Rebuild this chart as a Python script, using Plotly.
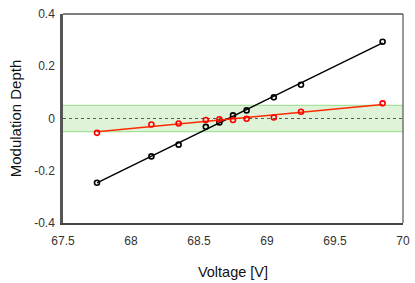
import numpy as np
import plotly.graph_objects as go

# Data
voltage = [67.75, 68.15, 68.35, 68.55, 68.65, 68.75, 68.85, 69.05, 69.25, 69.85]
depth_black = [-0.246, -0.145, -0.100, -0.032, -0.015, 0.012, 0.031, 0.081, 0.129, 0.294]
depth_red = [-0.055, -0.023, -0.019, -0.006, -0.003, -0.006, -0.001, 0.004, 0.026, 0.058]
band_limits = [-0.05, 0.05]
x_ticks = [67.5, 68, 68.5, 69, 69.5, 70]
x_tick_labels = ["67.5", "68", "68.5", "69", "69.5", "70"]
y_ticks = [-0.4, -0.2, 0, 0.2, 0.4]
y_tick_labels = ["-0.4", "-0.2", "0", "0.2", "0.4"]

FONT = "Liberation Sans, Arial, Helvetica, sans-serif"

v = np.array(voltage)
xfit = np.array([v.min(), v.max()])

fig = go.Figure()

for ys, lc, mc in [(depth_black, "#000000", "#000000"), (depth_red, "#ff2a00", "#ff0000")]:
    p = np.polyfit(v, np.array(ys), 1)
    fig.add_trace(go.Scatter(x=xfit, y=np.polyval(p, xfit), mode="lines",
                             line=dict(color=lc, width=1.5), showlegend=False,
                             hoverinfo="skip"))
    fig.add_trace(go.Scatter(x=voltage, y=ys, mode="markers",
                             marker=dict(symbol="circle-open", size=5, color=mc,
                                         line=dict(width=1.6, color=mc)),
                             showlegend=False))

# tolerance band
fig.add_shape(type="rect", xref="paper", x0=0, x1=1, yref="y",
              y0=band_limits[0], y1=band_limits[1],
              fillcolor="#dff3d9", line=dict(width=0), layer="below")
for yb in band_limits:
    fig.add_shape(type="line", xref="paper", x0=0, x1=1, yref="y", y0=yb, y1=yb,
                  line=dict(color="#a8e29a", width=1.2), layer="below")
# zero line
fig.add_shape(type="line", xref="paper", x0=0, x1=1, yref="y", y0=0, y1=0,
              line=dict(color="#333333", width=0.8, dash="dot"), layer="below")
# frame top/right
fig.add_shape(type="line", xref="paper", yref="paper", x0=0, x1=1, y0=1, y1=1,
              line=dict(color="#000000", width=1))
fig.add_shape(type="line", xref="paper", yref="paper", x0=1, x1=1, y0=0, y1=1,
              line=dict(color="#555555", width=1.2))

fig.update_layout(
    width=415, height=283,
    margin=dict(l=63, r=12, t=14, b=60, autoexpand=False),
    paper_bgcolor="white", plot_bgcolor="white",
    font=dict(family=FONT, color="#222222", size=12),
    xaxis=dict(range=[67.5, 70], tickvals=x_ticks, ticktext=x_tick_labels,
               showgrid=False, zeroline=False, showline=True, automargin=False,
               linecolor="#444444", linewidth=1.5, ticks="",
               ticklabelstandoff=6, ticklabeloverflow="allow",
               tickfont=dict(size=12, color="#333333"),
               title=dict(text="Voltage [V]", font=dict(size=14.5, color="#111111"),
                          standoff=20)),
    yaxis=dict(range=[-0.4, 0.4], tickvals=y_ticks, ticktext=y_tick_labels,
               showgrid=False, zeroline=False, showline=True, automargin=False,
               linecolor="#555555", linewidth=2.5, ticks="",
               ticklabelstandoff=3, ticklabeloverflow="allow",
               tickfont=dict(size=12, color="#333333"),
               title=dict(text="Modulation Depth", font=dict(size=15, color="#111111"),
                          standoff=9)),
)

fig.write_html("out.html",
               config={"displayModeBar": False},
               post_script="document.body.style.margin='0';document.body.style.overflow='hidden';")
